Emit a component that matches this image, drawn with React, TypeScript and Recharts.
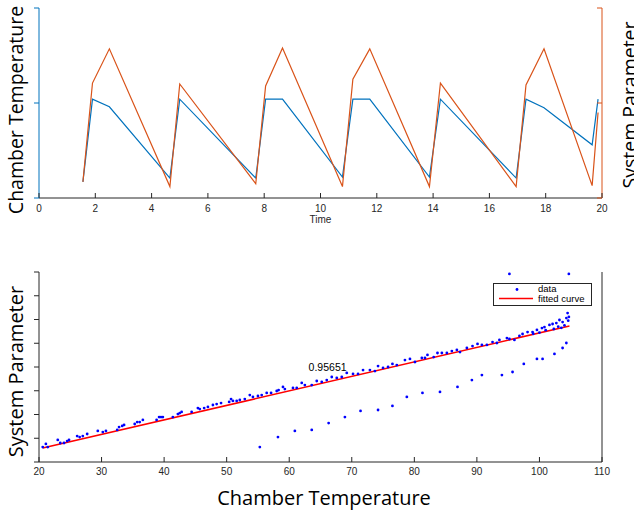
import React from "react";
import {
  Legend,
  Line,
  LineChart,
  ReferenceDot,
  Scatter,
  ScatterChart,
  XAxis,
  YAxis,
} from "recharts";

// Upper panel: chamber temperature (left axis) and system parameter (right axis) over time
const timeSec = [1.56, 1.9, 2.5, 4.65, 5.0, 7.7, 8.05, 8.65, 10.78, 11.15, 11.75, 13.87, 14.26, 16.95, 17.3, 17.94, 19.65, 19.86];
const chamberTemp = [0.17, 1.04, 0.96, 0.21, 1.04, 0.21, 1.04, 1.04, 0.22, 1.04, 1.04, 0.22, 1.04, 0.21, 1.04, 0.95, 0.56, 1.04];
const systemParam = [0.17, 1.21, 1.57, 0.12, 1.2, 0.15, 1.18, 1.58, 0.12, 1.25, 1.57, 0.12, 1.21, 0.12, 1.19, 1.57, 0.13, 0.9];
const timeTicks = [0, 2, 4, 6, 8, 10, 12, 14, 16, 18, 20];
const sideTicks = [0, 1, 2];

// Lower panel: system parameter vs chamber temperature, with linear fit
const tempTicks = [20, 30, 40, 50, 60, 70, 80, 90, 100, 110];
const paramTicks = [0, 1, 2, 3, 4, 5, 6, 7, 8];
const mainTemp = [
  20.6, 21.1, 21.4, 23.0, 23.4, 24.0, 24.5, 24.8, 26.1, 26.5, 27.0, 27.7, 29.4, 30.2, 30.7,
  32.5, 32.8, 33.3, 33.6, 35.3, 35.7, 36.1, 36.6, 38.8, 39.2, 39.5, 39.8, 41.4, 42.2, 42.5,
  42.8, 44.4, 45.4, 45.7, 46.4, 47.0, 47.8, 48.4, 49.1, 50.4, 50.7, 51.0, 51.6, 52.1, 52.9,
  53.7, 54.2, 55.0, 55.6, 56.4, 57.1, 58.0, 58.3, 59.0, 59.3, 60.6, 61.2, 62.0, 62.5, 63.6,
  64.4, 65.2, 66.0, 66.8, 67.6, 68.4, 69.2, 70.2, 71.0, 71.8, 72.9, 73.7, 74.2, 75.0, 75.8,
  76.5, 77.2, 78.5, 79.3, 80.1, 81.2, 81.7, 82.1, 83.1, 83.7, 84.4, 85.2, 86.0, 86.8, 87.3,
  88.4, 89.3, 90.1, 90.8, 91.6, 92.5, 93.2, 93.6, 94.8, 95.2, 96.0, 96.8, 97.3, 98.1, 98.9,
  99.6, 100.4, 100.8, 101.6, 102.1, 102.7, 103.2, 103.7, 104.3, 104.5, 104.7, 99.0, 100.0,
  101.0, 102.3, 103.0, 103.5, 104.0, 104.6,
];
const mainParam = [
  0.63, 0.76, 0.63, 0.93, 0.8, 0.8, 0.88, 0.93, 1.09, 1.05, 1.09, 1.18, 1.31, 1.26, 1.31,
  1.35, 1.47, 1.52, 1.56, 1.6, 1.68, 1.68, 1.77, 1.77, 1.89, 1.89, 1.89, 1.89, 2.02, 2.06,
  2.11, 2.11, 2.27, 2.23, 2.27, 2.32, 2.4, 2.44, 2.48, 2.53, 2.65, 2.57, 2.57, 2.61, 2.65,
  2.82, 2.74, 2.78, 2.82, 2.91, 2.91, 2.99, 3.03, 3.16, 3.07, 3.12, 3.12, 3.33, 3.24, 3.24,
  3.41, 3.37, 3.45, 3.58, 3.54, 3.58, 3.75, 3.71, 3.71, 3.87, 3.87, 3.83, 4.04, 3.96, 4.0,
  4.13, 4.08, 4.29, 4.34, 4.21, 4.38, 4.38, 4.51, 4.42, 4.59, 4.59, 4.59, 4.67, 4.72, 4.63,
  4.8, 4.88, 4.97, 4.93, 4.93, 5.05, 5.01, 5.14, 5.22, 5.18, 5.14, 5.31, 5.39, 5.47, 5.47,
  5.56, 5.64, 5.68, 5.77, 5.81, 5.85, 5.98, 5.89, 6.06, 6.27, 6.11, 5.4, 5.45,
  5.55, 5.6, 5.7, 5.65, 5.75, 5.95,
];
const lowTemp = [55.3, 58.2, 60.9, 63.6, 66.3, 68.9, 71.4, 74.2, 76.5, 78.8, 81.3, 84.1, 86.9, 89.2, 90.8, 94.0, 95.7, 97.5, 99.6, 100.5, 102.4, 103.7, 104.3];
const lowParam = [0.63, 1.05, 1.31, 1.35, 1.64, 1.89, 2.15, 2.19, 2.36, 2.74, 2.91, 2.95, 3.16, 3.45, 3.66, 3.66, 3.79, 4.13, 4.34, 4.34, 4.55, 4.8, 5.01];
const outlierTemp = [95.2, 104.7];
const outlierParam = [7.92, 7.92];
const fitTemp = [20.6, 104.8];
const fitParam = [0.59, 5.73];
const fitNote = "0.95651";
const fitNoteAt = { temp: 63.1, param: 4.0 };

const BLUE = "#0072bd";
const ORANGE = "#d95319";
const AXIS = "#262626";
const TICK_FONT = "'Liberation Sans', Arial, sans-serif";
const TITLE_FONT = "'Open Sans', 'Noto Sans', sans-serif";

const timeRows = timeSec.map((t, i) => ({ t, chamber: chamberTemp[i], system: systemParam[i] }));
const scatterRows = [
  ...mainTemp.map((x, i) => ({ x, y: mainParam[i] })),
  ...lowTemp.map((x, i) => ({ x, y: lowParam[i] })),
  ...outlierTemp.map((x, i) => ({ x, y: outlierParam[i] })),
];
const fitRows = fitTemp.map((x, i) => ({ x, y: fitParam[i] }));

type Side = "bottom" | "top" | "left" | "right";

// matlab-ish tick marks: short line on the axis, optional number under it
const makeTick = (side: Side, inward: boolean, stroke: string, labelGap = 0) => (p: any) => {
  const { x, y, payload } = p;
  const len = 5;
  let x2 = x;
  let y2 = y;
  if (side === "bottom") y2 = inward ? y - len : y + len;
  if (side === "top") y2 = inward ? y + len : y - len;
  if (side === "left") x2 = inward ? x + len : x - len;
  if (side === "right") x2 = inward ? x - len : x + len;
  return (
    <g>
      <line x1={x} y1={y} x2={x2} y2={y2} stroke={stroke} strokeWidth={1} />
      {labelGap > 0 && (
        <text x={x} y={y + labelGap} textAnchor="middle" fontSize={10} fill={AXIS} fontFamily={TICK_FONT}>
          {payload.value}
        </text>
      )}
    </g>
  );
};

const vTitle = (text: string, dx: number, dy: number, size: number) => ({
  content: (p: any) => {
    const vb = p.viewBox;
    const cx = vb.x + dx;
    const cy = vb.y + vb.height / 2 + dy;
    return (
      <text
        x={cx}
        y={cy}
        transform={`rotate(-90 ${cx} ${cy})`}
        textAnchor="middle"
        dominantBaseline="central"
        fontSize={size}
        fontFamily={TITLE_FONT}
        fill="#000"
      >
        {text}
      </text>
    );
  },
});

const hTitle = (text: string, dx: number, dy: number, size: number, font: string, fill: string) => ({
  content: (p: any) => {
    const vb = p.viewBox;
    return (
      <text
        x={vb.x + vb.width / 2 + dx}
        y={vb.y + dy}
        textAnchor="middle"
        dominantBaseline="central"
        fontSize={size}
        fontFamily={font}
        fill={fill}
      >
        {text}
      </text>
    );
  },
});

function FitLegend() {
  return (
    <svg width={99} height={23} style={{ display: "block" }}>
      <rect x={0.5} y={0.5} width={98} height={22} fill="#fff" stroke={AXIS} />
      <circle cx={24} cy={6.5} r={1.4} fill="#0000ff" />
      <text x={45} y={9} fontSize={9.5} fontFamily={TICK_FONT} fill="#000">
        data
      </text>
      <line x1={6} x2={40} y1={15.5} y2={15.5} stroke="#ff0000" strokeWidth={1.5} />
      <text x={45} y={19} fontSize={9.5} fontFamily={TICK_FONT} fill="#000">
        fitted curve
      </text>
    </svg>
  );
}

function TimePanel() {
  return (
    <LineChart width={634} height={230} data={timeRows} margin={{ top: 8, right: 0, bottom: 0, left: 0 }}>
      <XAxis
        xAxisId="b"
        dataKey="t"
        type="number"
        domain={[0, 20]}
        ticks={timeTicks}
        interval={0}
        height={32}
        tickSize={0}
        tickMargin={0}
        tickLine={false}
        axisLine={{ stroke: AXIS }}
        tick={makeTick("bottom", true, AXIS, 14)}
        label={hTitle("Time", 0, 21, 10, TICK_FONT, AXIS)}
      />
      <XAxis
        xAxisId="top"
        orientation="top"
        type="number"
        domain={[0, 20]}
        ticks={timeTicks}
        interval={0}
        height={0}
        tickSize={0}
        tickMargin={0}
        tickLine={false}
        axisLine={{ stroke: AXIS }}
        tick={makeTick("top", true, AXIS)}
      />
      <YAxis
        yAxisId="L"
        type="number"
        domain={[0, 2]}
        ticks={sideTicks}
        interval={0}
        width={39}
        tickSize={0}
        tickMargin={0}
        tickLine={false}
        axisLine={{ stroke: BLUE }}
        tick={makeTick("left", false, BLUE)}
        label={vTitle("Chamber Temperature", 15.5, 7, 19.5)}
      />
      <YAxis
        yAxisId="R"
        orientation="right"
        type="number"
        domain={[0, 2]}
        ticks={sideTicks}
        interval={0}
        width={32}
        tickSize={0}
        tickMargin={0}
        tickLine={false}
        axisLine={{ stroke: ORANGE }}
        tick={makeTick("right", true, ORANGE)}
        label={vTitle("System Parameter", 27, 2, 19.5)}
      />
      <Line
        xAxisId="b"
        yAxisId="L"
        dataKey="chamber"
        stroke={BLUE}
        strokeWidth={1.2}
        dot={false}
        type="linear"
        isAnimationActive={false}
      />
      <Line
        xAxisId="b"
        yAxisId="R"
        dataKey="system"
        stroke={ORANGE}
        strokeWidth={1.2}
        dot={false}
        type="linear"
        isAnimationActive={false}
      />
    </LineChart>
  );
}

function FitPanel() {
  return (
    <ScatterChart width={634} height={267} margin={{ top: 22, right: 0, bottom: 0, left: 0 }}>
      <XAxis
        xAxisId="b"
        dataKey="x"
        type="number"
        domain={[20, 110]}
        ticks={tempTicks}
        interval={0}
        height={55}
        tickSize={0}
        tickMargin={0}
        tickLine={false}
        axisLine={{ stroke: AXIS }}
        tick={makeTick("bottom", true, AXIS, 12.5)}
        label={hTitle("Chamber Temperature", 3.5, 35, 20, TITLE_FONT, "#000")}
      />
      <XAxis
        xAxisId="top"
        orientation="top"
        type="number"
        domain={[20, 110]}
        ticks={tempTicks}
        interval={0}
        height={0}
        tickSize={0}
        tickMargin={0}
        tickLine={false}
        axisLine={{ stroke: AXIS }}
        tick={makeTick("top", true, AXIS)}
      />
      <YAxis
        yAxisId="L"
        dataKey="y"
        type="number"
        domain={[0, 8]}
        ticks={paramTicks}
        interval={0}
        width={39}
        tickSize={0}
        tickMargin={0}
        tickLine={false}
        axisLine={{ stroke: AXIS }}
        tick={makeTick("left", false, AXIS)}
        label={vTitle("System Parameter", 15.5, 4.5, 20)}
      />
      <YAxis
        yAxisId="R"
        orientation="right"
        type="number"
        domain={[0, 8]}
        ticks={paramTicks}
        interval={0}
        width={32}
        tickSize={0}
        tickMargin={0}
        tickLine={false}
        axisLine={{ stroke: AXIS }}
        tick={makeTick("right", true, AXIS)}
      />
      <Scatter
        xAxisId="b"
        yAxisId="L"
        name="fitted curve"
        data={fitRows}
        line={{ stroke: "#ff0000", strokeWidth: 1.6 }}
        shape={() => <g />}
        isAnimationActive={false}
      />
      <Scatter
        xAxisId="b"
        yAxisId="L"
        name="data"
        data={scatterRows}
        shape={(p: any) => <circle cx={p.cx} cy={p.cy} r={1.4} fill="#0000ff" />}
        isAnimationActive={false}
      />
      <ReferenceDot
        xAxisId="b"
        yAxisId="L"
        x={fitNoteAt.temp}
        y={fitNoteAt.param}
        r={0}
        shape={(p: any) => (
          <text x={p.cx} y={p.cy} dominantBaseline="central" fontSize={10.5} fontFamily={TICK_FONT} fill="#000">
            {fitNote}
          </text>
        )}
      />
      <Legend
        layout="vertical"
        align="center"
        verticalAlign="middle"
        wrapperStyle={{ left: 493, top: 33, width: 99, height: 23 }}
        content={() => <FitLegend />}
      />
    </ScatterChart>
  );
}

export default function App() {
  return (
    <div style={{ position: "absolute", left: 0, top: 0, width: 634, height: 517, background: "#fff" }}>
      <div style={{ position: "absolute", left: 0, top: 0 }}>
        <TimePanel />
      </div>
      <div style={{ position: "absolute", left: 0, top: 250 }}>
        <FitPanel />
      </div>
    </div>
  );
}
